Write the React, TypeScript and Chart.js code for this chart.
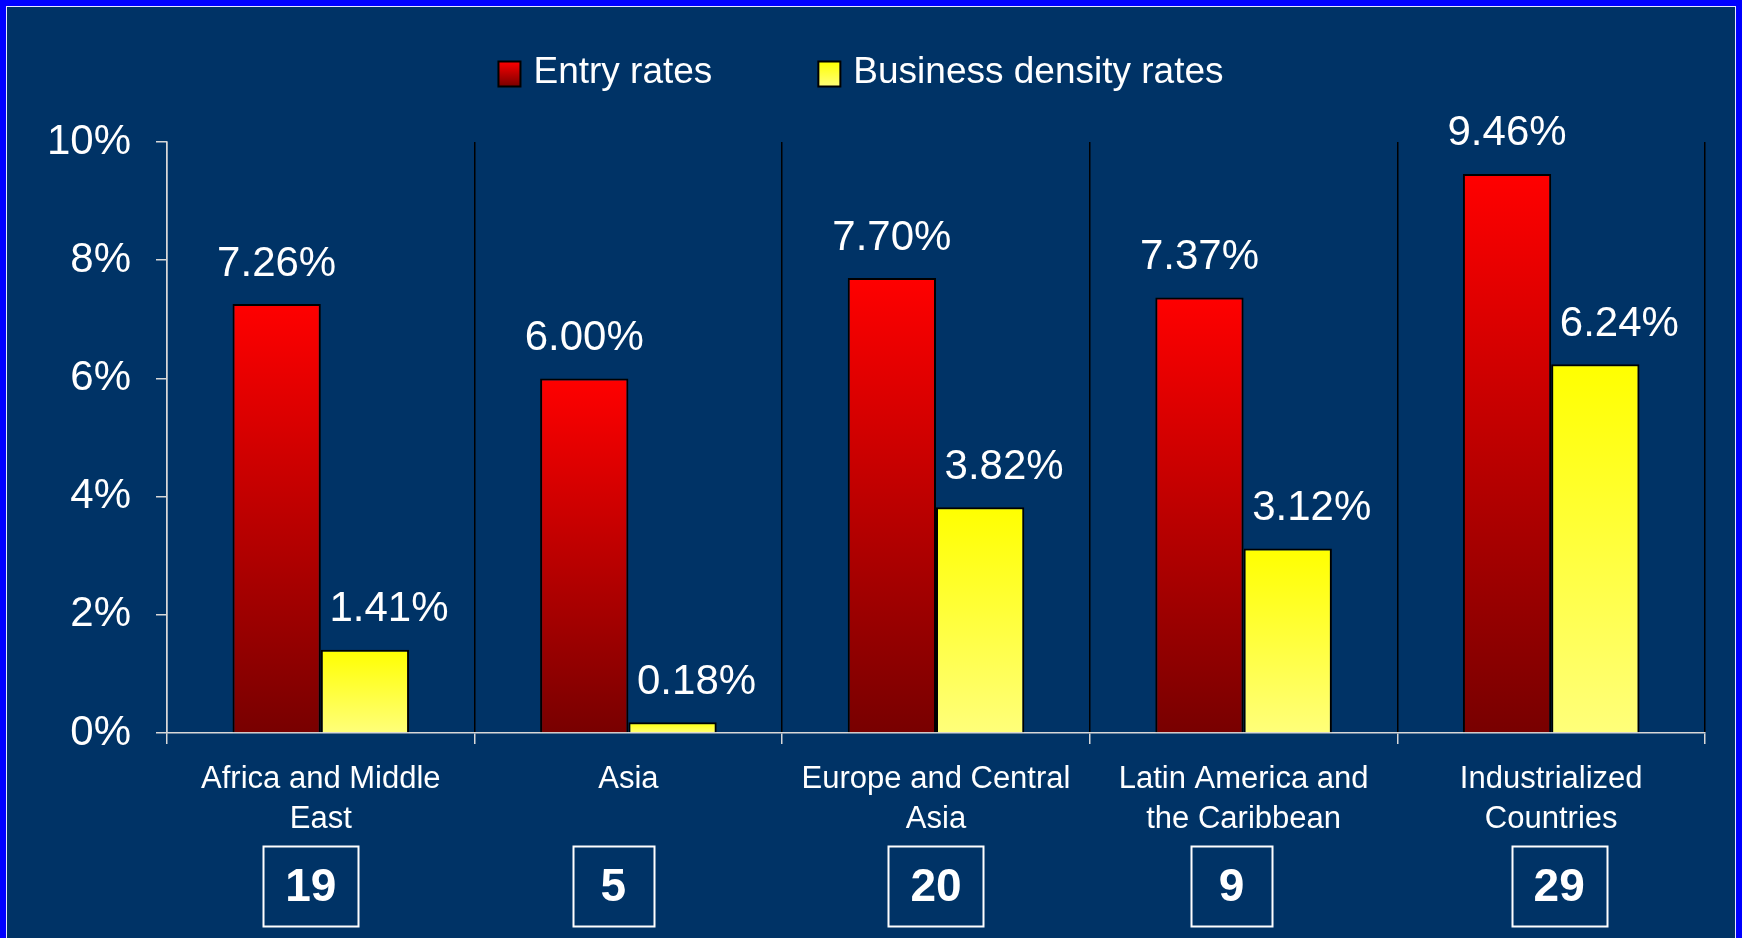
import React, { useEffect, useRef } from "react";
import { Chart, registerables } from "chart.js";

Chart.register(...registerables);

// ---- data ----
const categories: string[][] = [
  ["Africa and Middle", "East"],
  ["Asia"],
  ["Europe and Central", "Asia"],
  ["Latin America and", "the Caribbean"],
  ["Industrialized", "Countries"],
];
const seriesNames = ["Entry rates", "Business density rates"];
const entryRates = [7.26, 6.0, 7.7, 7.37, 9.46];
const densityRates = [1.41, 0.18, 3.82, 3.12, 6.24];
const countryCounts = [19, 5, 20, 9, 29];
const yMin = 0;
const yMax = 10;
const yStep = 2;

// ---- styles ----
const FONT = "'Liberation Sans', Arial, Helvetica, sans-serif";
const AXIS = "#D8D8D8";
const RED = ["#FF0000", "#780000"];
const YELLOW = ["#FFFF00", "#FFFF7A"];
// small horizontal nudges of the count boxes (as placed in the original slide)
const countBoxShift = [-10, -15, 0, -12, 8];

export default function App() {
  const ref = useRef<HTMLCanvasElement>(null);

  useEffect(() => {
    const canvas = ref.current;
    if (!canvas) return;

    const barGrad = (top: string, bottom: string) => (c: any) => {
      const chart = c.chart;
      const y = chart.scales && chart.scales.y;
      if (!y || c.type !== "data" || c.raw == null) return top;
      const yTop = y.getPixelForValue(c.raw);
      const yBot = y.getPixelForValue(0);
      if (!isFinite(yTop) || !isFinite(yBot) || yTop === yBot) return top;
      const g = chart.ctx.createLinearGradient(0, yTop, 0, yBot);
      g.addColorStop(0, top);
      g.addColorStop(1, bottom);
      return g;
    };

    const valueLabels = {
      id: "valueLabels",
      afterDatasetsDraw(chart: any) {
        const ctx = chart.ctx;
        ctx.save();
        ctx.font = `42px ${FONT}`;
        ctx.fillStyle = "#FFFFFF";
        ctx.textAlign = "center";
        ctx.textBaseline = "middle";
        chart.data.datasets.forEach((ds: any, di: number) => {
          const meta = chart.getDatasetMeta(di);
          meta.data.forEach((bar: any, i: number) => {
            const v = ds.data[i];
            const dx = di === 1 ? 24 : 0;
            ctx.fillText(v.toFixed(2) + "%", bar.x + dx, bar.y - 40);
          });
        });
        ctx.restore();
      },
    };

    const customLegend = {
      id: "customLegend",
      afterDraw(chart: any) {
        const ctx = chart.ctx;
        ctx.save();
        ctx.font = `37px ${FONT}`;
        const box = 22;
        const boxH = 25;
        const gap = 13;
        const itemGap = 106;
        const colors = [RED, YELLOW];
        const widths = chart.data.datasets.map(
          (ds: any) => box + gap + ctx.measureText(ds.label).width
        );
        const total = widths.reduce((a: number, b: number) => a + b, 0) + itemGap * (widths.length - 1);
        let x = chart.width / 2 - 10 - total / 2;
        const cy = 74;
        chart.data.datasets.forEach((ds: any, i: number) => {
          const g = ctx.createLinearGradient(0, cy - boxH / 2, 0, cy + boxH / 2);
          g.addColorStop(0, colors[i][0]);
          g.addColorStop(1, colors[i][1]);
          ctx.fillStyle = g;
          ctx.fillRect(x, cy - boxH / 2, box, boxH);
          ctx.lineWidth = 2;
          ctx.strokeStyle = "#000000";
          ctx.strokeRect(x, cy - boxH / 2, box, boxH);
          ctx.fillStyle = "#FFFFFF";
          ctx.textAlign = "left";
          ctx.textBaseline = "middle";
          ctx.fillText(ds.label, x + box + gap, cy - 1);
          x += widths[i] + itemGap;
        });
        ctx.restore();
      },
    };

    const countBoxes = {
      id: "countBoxes",
      afterDraw(chart: any) {
        const ctx = chart.ctx;
        const xs = chart.scales.x;
        ctx.save();
        ctx.font = `bold 46px ${FONT}`;
        ctx.textAlign = "center";
        ctx.textBaseline = "middle";
        countryCounts.forEach((n, i) => {
          const cx = xs.getPixelForValue(i) + (countBoxShift[i] || 0);
          const txt = String(n);
          const tw = ctx.measureText(txt).width;
          const w = Math.max(tw + 44, 81);
          const h = 80;
          const top = 846;
          ctx.lineWidth = 2;
          ctx.strokeStyle = "#FFFFFF";
          ctx.strokeRect(Math.round(cx - w / 2) + 0.5, top + 0.5, Math.round(w), h);
          ctx.fillStyle = "#FFFFFF";
          ctx.fillText(txt, cx, top + h / 2 + 2);
        });
        ctx.restore();
      },
    };

    const chart = new Chart(canvas, {
      type: "bar",
      data: {
        labels: categories,
        datasets: [
          {
            label: seriesNames[0],
            data: entryRates,
            backgroundColor: barGrad(RED[0], RED[1]),
            borderColor: "#000000",
            borderWidth: 2,
            categoryPercentage: 0.574,
            barPercentage: 1.0,
          },
          {
            label: seriesNames[1],
            data: densityRates,
            backgroundColor: barGrad(YELLOW[0], YELLOW[1]),
            borderColor: "#000000",
            borderWidth: 2,
            categoryPercentage: 0.574,
            barPercentage: 1.0,
          },
        ],
      },
      options: {
        responsive: false,
        animation: false,
        devicePixelRatio: 1,
        layout: { padding: { left: 0, top: 142, right: 37, bottom: 0 } },
        plugins: {
          legend: { display: false },
          tooltip: { enabled: false },
        },
        scales: {
          x: {
            grid: {
              offset: true,
              color: (c: any) => (c.index === 0 ? AXIS : "#000000"),
              lineWidth: 1.5,
              tickColor: AXIS,
              tickLength: 11,
              drawOnChartArea: true,
            },
            border: { color: AXIS, width: 1.5 },
            ticks: {
              color: "#FFFFFF",
              font: { family: FONT, size: 31, lineHeight: 40 / 31 },
              padding: 15,
              autoSkip: false,
              maxRotation: 0,
            },
            afterFit: (s: any) => {
              s.height = 205;
            },
          },
          y: {
            min: yMin,
            max: yMax,
            ticks: {
              stepSize: yStep,
              callback: (v: any) => `${v}%`,
              color: "#FFFFFF",
              font: { family: FONT, size: 42 },
              padding: 25,
            },
            grid: { drawOnChartArea: false, tickColor: AXIS, tickLength: 11, lineWidth: 1.5 },
            border: { color: AXIS, width: 1.5 },
            afterFit: (s: any) => {
              s.width = 167;
            },
          },
        },
      },
      plugins: [valueLabels, customLegend, countBoxes],
    } as any);

    return () => chart.destroy();
  }, []);

  return (
    <div
      style={{
        position: "absolute",
        left: 0,
        top: 0,
        width: 1742,
        height: 938,
        background: "#0000FF",
        overflow: "hidden",
      }}
    >
      <div
        style={{
          position: "absolute",
          left: 6,
          top: 6,
          width: 1730,
          height: 960,
          background: "#003366",
          border: "1px solid #E8E8FF",
          boxSizing: "border-box",
        }}
      />
      <canvas
        ref={ref}
        width={1742}
        height={938}
        style={{ position: "absolute", left: 0, top: 0, width: 1742, height: 938 }}
      />
    </div>
  );
}
